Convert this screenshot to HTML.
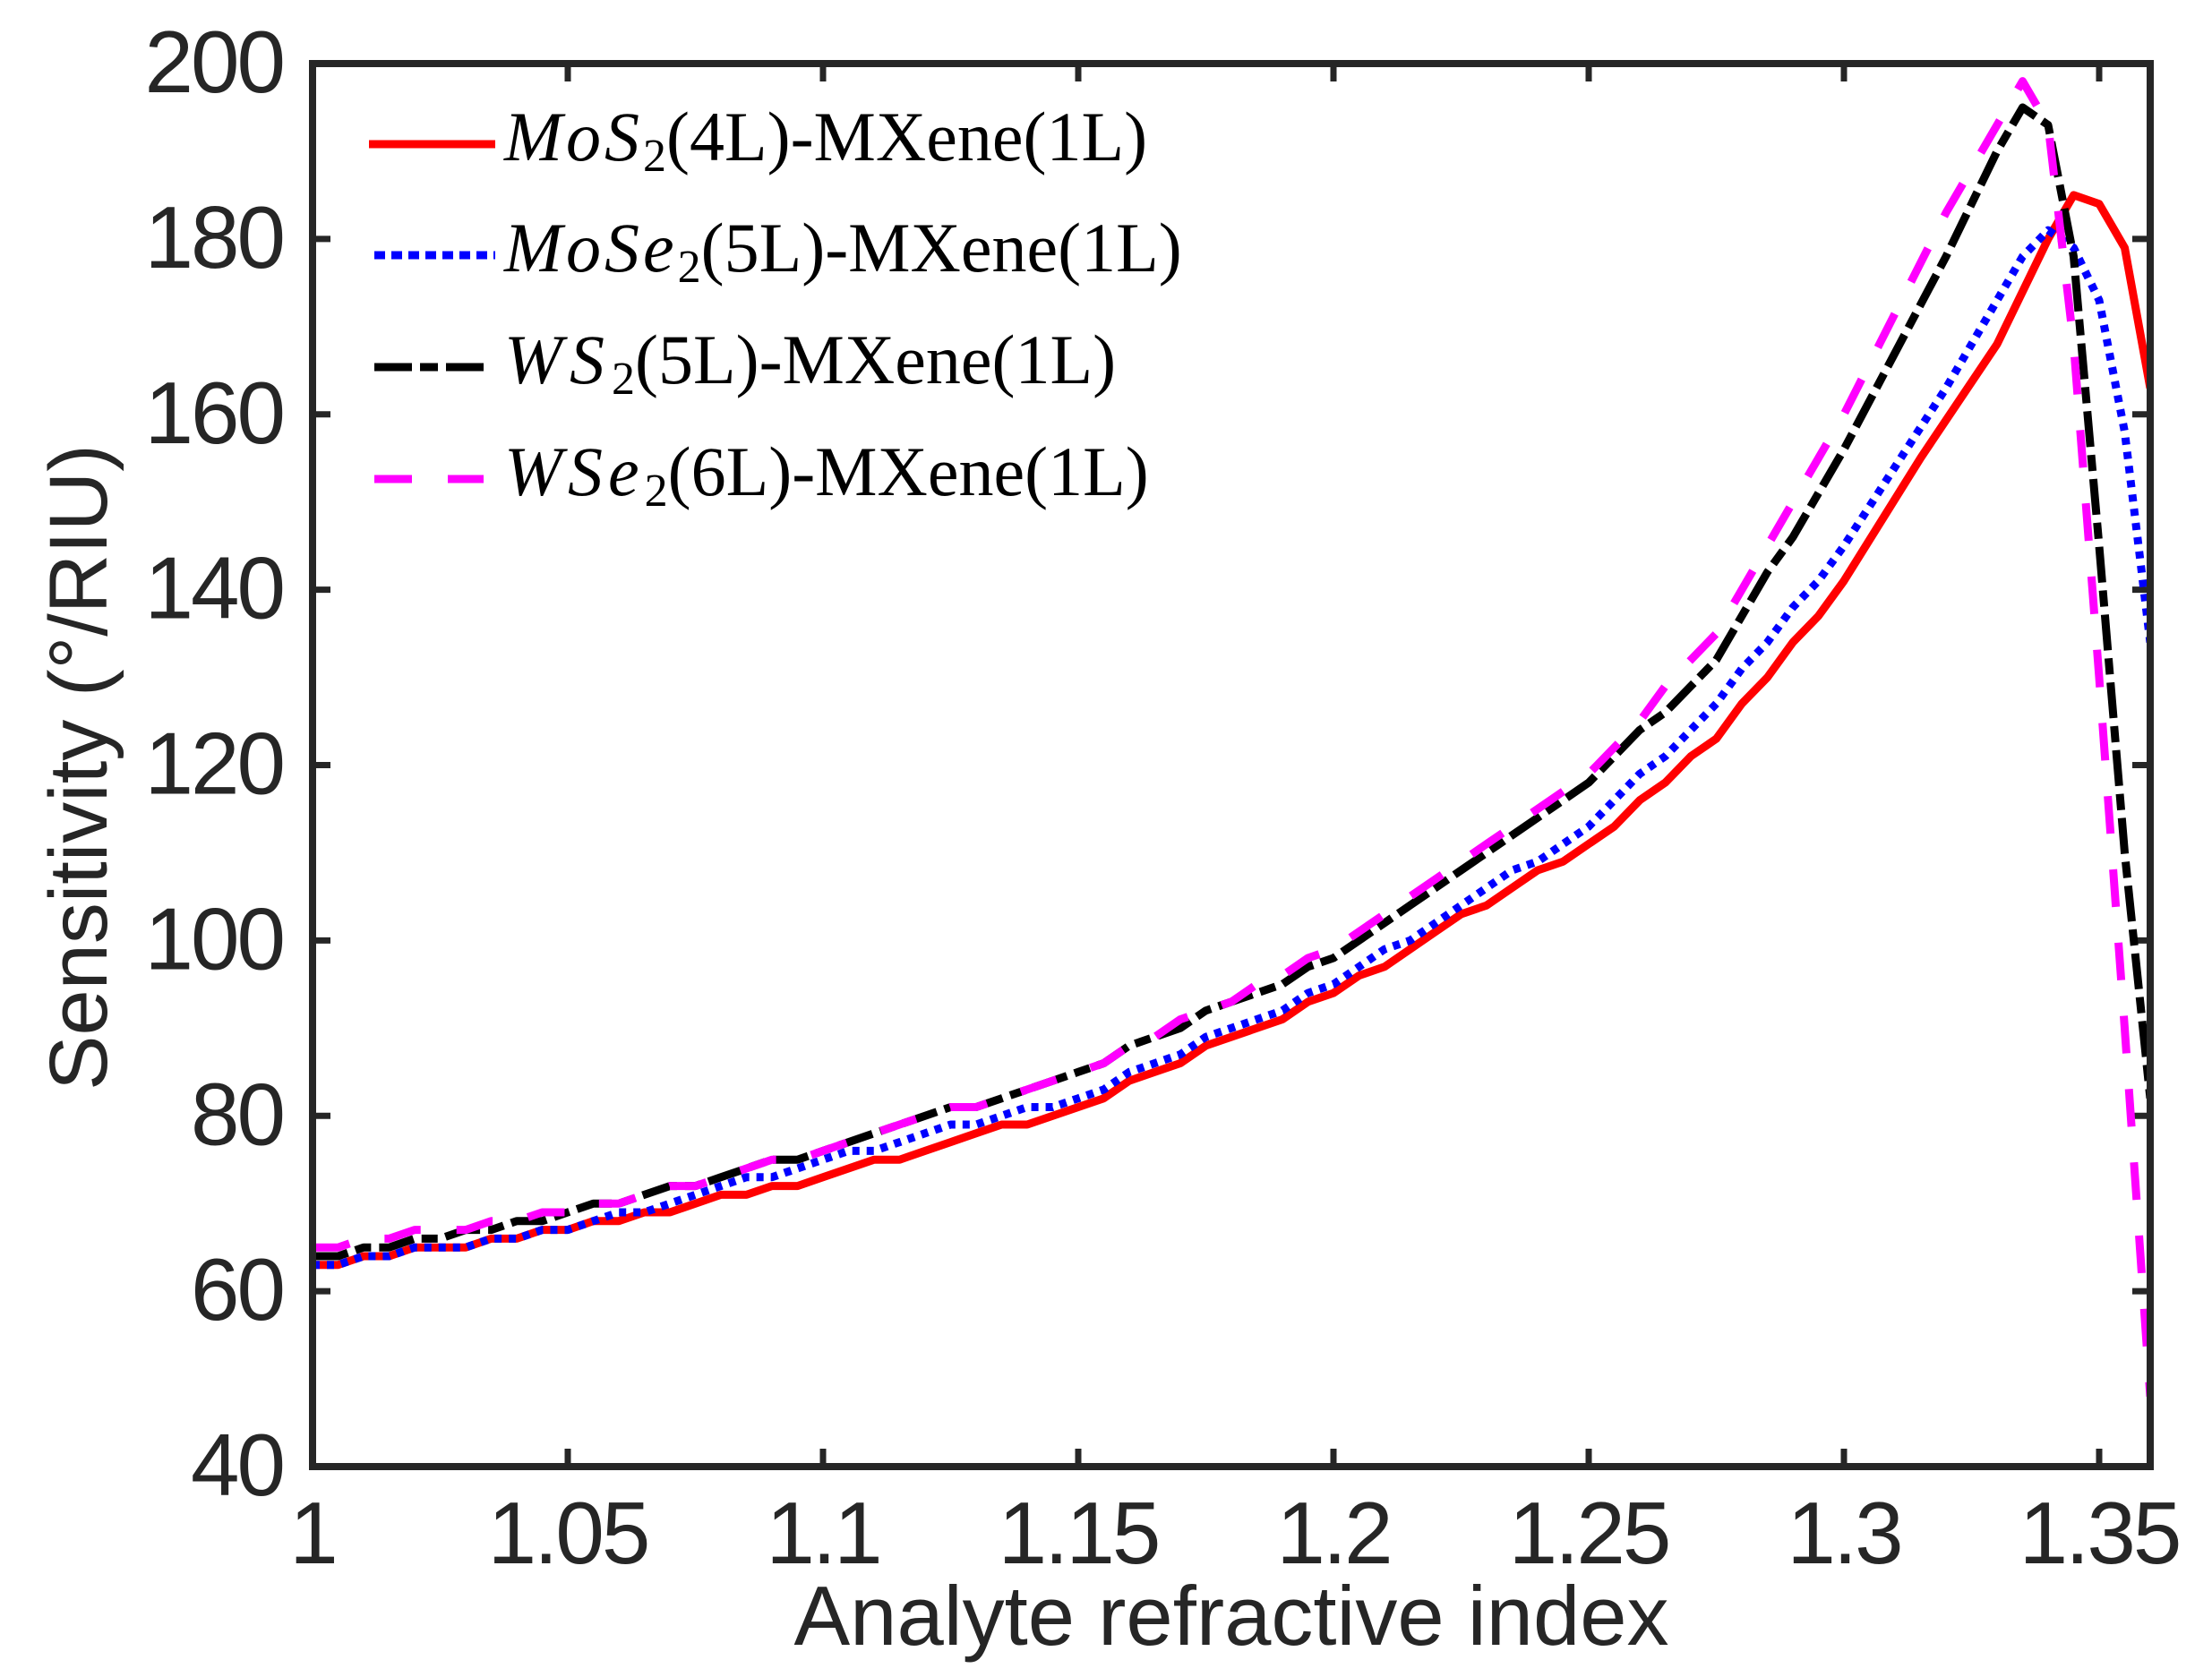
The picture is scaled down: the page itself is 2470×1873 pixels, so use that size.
<!DOCTYPE html>
<html><head><meta charset="utf-8"><style>
html,body{margin:0;padding:0;background:#fff}
svg{display:block}
</style></head><body>
<svg id="s" width="2470" height="1873" viewBox="0 0 2470 1873" xmlns="http://www.w3.org/2000/svg">
<rect width="2470" height="1873" fill="#fff"/>
<defs><clipPath id="c"><rect x="349" y="71" width="2052" height="1567"/></clipPath></defs>
<g id="ticks" stroke="#262626" stroke-width="7"></g>
<g id="lines" clip-path="url(#c)" fill="none" stroke-width="9" stroke-linejoin="round"></g>
<rect x="349" y="71" width="2052" height="1567" fill="none" stroke="#262626" stroke-width="8"/>
<g id="labels" font-family="'Liberation Sans', Arial, sans-serif" font-size="98" fill="#262626"></g>
<text x="1375" y="1837" text-anchor="middle" font-family="'Liberation Sans', Arial, sans-serif" font-size="94" fill="#262626">Analyte refractive index</text>
<text transform="translate(119,857) rotate(-90)" text-anchor="middle" font-family="'Liberation Sans', Arial, sans-serif" font-size="92" fill="#262626">Sensitivity (°/RIU)</text>
<g font-family="'Liberation Serif', serif" font-size="78" fill="#000">
<line x1="412" y1="161" x2="553" y2="161" stroke="#f00" stroke-width="9"/>
<text x="563" y="179"><tspan font-style="italic" letter-spacing="4">MoS</tspan><tspan font-size="52" dy="12">2</tspan><tspan dy="-12">(4L)-MXene(1L)</tspan></text>
<line x1="418" y1="285" x2="553" y2="285" stroke="#00f" stroke-width="9" stroke-dasharray="12 7"/>
<text x="563" y="303"><tspan font-style="italic" letter-spacing="4">MoSe</tspan><tspan font-size="52" dy="12">2</tspan><tspan dy="-12">(5L)-MXene(1L)</tspan></text>
<line x1="418" y1="410" x2="540" y2="410" stroke="#000" stroke-width="9" stroke-dasharray="42 9 20 9"/>
<text x="563" y="428"><tspan font-style="italic" letter-spacing="8">WS</tspan><tspan font-size="52" dy="12">2</tspan><tspan dy="-12">(5L)-MXene(1L)</tspan></text>
<line x1="418" y1="535" x2="540" y2="535" stroke="#f0f" stroke-width="9" stroke-dasharray="42 40"/>
<text x="563" y="553"><tspan font-style="italic" letter-spacing="6">WSe</tspan><tspan font-size="52" dy="12">2</tspan><tspan dy="-12">(6L)-MXene(1L)</tspan></text>
</g>
</svg>
<script>
var NS="http://www.w3.org/2000/svg";
function X(n){return 349+(n-1)/0.36*2052;}
function Y(v){return 1638-(v-40)/160*1567;}
var tk=document.getElementById('ticks'),lb=document.getElementById('labels');
function el(p,t,a,txt){var e=document.createElementNS(NS,t);for(var k in a)e.setAttribute(k,a[k]);if(txt)e.textContent=txt;p.appendChild(e);return e;}
var xt=[1,1.05,1.1,1.15,1.2,1.25,1.3,1.35],xl=["1","1.05","1.1","1.15","1.2","1.25","1.3","1.35"];
xt.forEach(function(n,i){var x=X(n);el(tk,'line',{x1:x,y1:1638,x2:x,y2:1618});el(tk,'line',{x1:x,y1:71,x2:x,y2:91});
el(lb,'text',{x:x,y:1746,'text-anchor':'middle','letter-spacing':'-3'},xl[i]);});
for(var v=40;v<=200;v+=20){var y=Y(v);el(tk,'line',{x1:349,y1:y,x2:369,y2:y});el(tk,'line',{x1:2401,y1:y,x2:2381,y2:y});
el(lb,'text',{x:316,y:y+32,'text-anchor':'end','letter-spacing':'-3'},String(v));}
var S=[
{c:"#f00",d:"",k:[[1,63],[1.05,67],[1.1,73],[1.15,81],[1.2,94],[1.25,111],[1.275,123],[1.3,141],[1.315,155],[1.33,168],[1.34,180],[1.345,185],[1.35,184],[1.355,179],[1.36,163]]},
{c:"#00f",d:"8 8",k:[[1,63],[1.05,67],[1.1,75],[1.15,82],[1.2,95],[1.25,113],[1.275,127],[1.3,145],[1.32,163],[1.335,178],[1.34,181],[1.345,179],[1.35,173],[1.355,158],[1.36,134]]},
{c:"#000",d:"40 9 18 9",k:[[1,64],[1.03,67],[1.05,69],[1.1,76],[1.15,85],[1.2,98],[1.25,118],[1.275,132],[1.3,156],[1.32,178],[1.33,190],[1.335,195],[1.34,193],[1.345,178],[1.35,145],[1.355,110],[1.36,82]]},
{c:"#f0f",d:"42 40",k:[[1,65],[1.05,69],[1.1,76],[1.15,85],[1.2,99],[1.25,119],[1.275,135],[1.3,160],[1.32,183],[1.335,198],[1.34,193],[1.345,168],[1.35,130],[1.355,90],[1.36,48]]}];
var g=document.getElementById('lines');
function interp(k,n){for(var i=0;i<k.length-1;i++){if(n<=k[i+1][0]+1e-9){var t=(n-k[i][0])/(k[i+1][0]-k[i][0]);return k[i][1]+t*(k[i+1][1]-k[i][1]);}}return k[k.length-1][1];}
S.forEach(function(s){var pts=[];var ns=[];for(var i=0;i<=60;i++)ns.push(1+i*0.005);
s.k.forEach(function(p){if(p[0]>1.3)ns.push(p[0]);});
ns.sort(function(a,b){return a-b;});
ns.forEach(function(n){var v=interp(s.k,n);if(n<1.3)v=Math.round(v);pts.push(X(n).toFixed(1)+","+Y(v).toFixed(1));});
var a={points:pts.join(" "),stroke:s.c};if(s.d)a['stroke-dasharray']=s.d;el(g,'polyline',a);});
</script>
</body></html>
